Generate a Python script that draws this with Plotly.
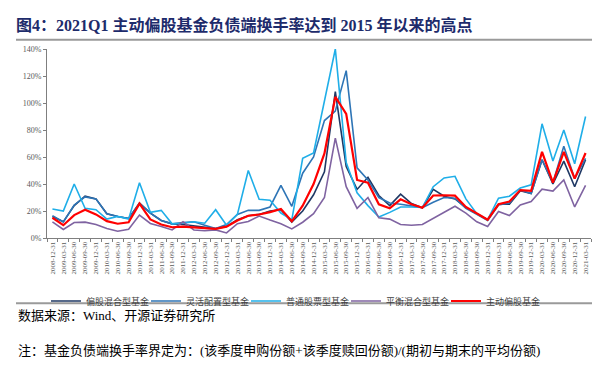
import plotly.graph_objects as go

dates = [
    "2008-12-31", "2009-03-31", "2009-06-30", "2009-09-30", "2009-12-31",
    "2010-03-31", "2010-06-30", "2010-09-30", "2010-12-31",
    "2011-03-31", "2011-06-30", "2011-09-30", "2011-12-31",
    "2012-03-31", "2012-06-30", "2012-09-30", "2012-12-31",
    "2013-03-31", "2013-06-30", "2013-09-30", "2013-12-31",
    "2014-03-31", "2014-06-30", "2014-09-30", "2014-12-31",
    "2015-03-31", "2015-06-30", "2015-09-30", "2015-12-31",
    "2016-03-31", "2016-06-30", "2016-09-30", "2016-12-31",
    "2017-03-31", "2017-06-30", "2017-09-30", "2017-12-31",
    "2018-03-31", "2018-06-30", "2018-09-30", "2018-12-31",
    "2019-03-31", "2019-06-30", "2019-09-30", "2019-12-31",
    "2020-03-31", "2020-06-30", "2020-09-30", "2020-12-31",
    "2021-03-31",
]

# 偏股混合型基金 (%)
pianguhunhe = [16, 12, 24, 31, 29, 18, 16, 14.5, 26, 18.5, 13, 10.5, 10, 9, 8, 7, 8.5,
               13.5, 16.5, 17.5, 20, 21, 11.8, 20, 32, 49, 108.5, 53, 36, 45, 31.5, 24,
               32.5, 25.5, 22.5, 36, 31, 29, 22.5, 17.8, 13.5, 25, 25, 35, 33, 58, 40,
               57, 38, 58]
# 灵活配置型基金 (%)
linghuopeizhi = [16.5, 12, 24.5, 30.5, 29, 18, 16, 14.5, 25.5, 18.5, 13, 10.5, 11.5, 12,
                 9.5, 7, 10, 17.5, 20.5, 20.5, 23, 39, 23.5, 48, 60, 87, 94, 124, 52, 43,
                 30, 26, 25, 24, 22.5, 26.5, 30, 29.5, 22, 17.5, 13, 24.5, 26, 35.5, 33,
                 58, 41, 68, 44, 59]
# 普通股票型基金 (%)
putonggupiao = [21.5, 20, 40, 22, 21, 14, 16, 14, 41, 19, 20.5, 10.5, 11, 12, 11, 21,
                9.5, 17.5, 50, 28.7, 28, 18.5, 13.5, 59, 63, 102, 140, 56, 33.5, 24, 15.5,
                19, 23, 23, 22.6, 38, 44.5, 45.7, 29, 18, 13.6, 29.5, 31, 37, 39.4, 84.6,
                57, 80, 55, 90]
# 平衡混合型基金 (%)
pinghenghunhe = [12, 6.3, 11.5, 11.8, 10, 7, 5, 6.5, 17, 10.8, 8.5, 6, 12, 6, 5.4, 6, 3.8,
                 10.6, 12.2, 16.3, 13.3, 10.6, 6.8, 11.7, 18, 30, 74, 38, 22, 30, 15, 14,
                 10, 9.5, 10, 14.5, 18.5, 23.5, 18.5, 12, 8.5, 19.7, 16.7, 24.5, 27, 36.2,
                 34.8, 43, 23, 39]
# 主动偏股基金 (%)
zhudongpiangu = [15, 9.5, 17, 21, 17.5, 12.5, 10.6, 11.7, 25.5, 13.8, 10, 8, 8.5, 8, 7.2,
                 6.8, 8.4, 13, 16.5, 17.4, 19.2, 21.5, 12.4, 24, 40, 62.7, 104.5, 92, 43,
                 41, 25, 22, 28.7, 25, 22.4, 31.5, 31.7, 31.4, 23, 18, 13.6, 25, 27, 35.5,
                 35, 63.8, 41, 63.8, 44, 63]

series = [
    ("偏股混合型基金", pianguhunhe, "#1F3864", 1.6),
    ("灵活配置型基金", linghuopeizhi, "#2E75B6", 1.6),
    ("普通股票型基金", putonggupiao, "#1FAEE8", 1.6),
    ("平衡混合型基金", pinghenghunhe, "#7F63A1", 1.6),
    ("主动偏股基金", zhudongpiangu, "#FF0000", 2.2),
]

y_ticks = [0, 20, 40, 60, 80, 100, 120, 140]

title_text = "图4：2021Q1 主动偏股基金负债端换手率达到 2015 年以来的高点"
source_text = "数据来源：Wind、开源证券研究所"
note_text = "注：基金负债端换手率界定为：(该季度申购份额+该季度赎回份额)/(期初与期末的平均份额)"

W, H = 600, 383
ML, MR, MT, MB = 39, 17, 41, 136
PW = W - ML - MR
PH = H - MT - MB


def px_x(px):
    return (px - ML) / PW


def px_y(py):
    return (H - MB - py) / PH


serif_cjk = "Liberation Serif, Noto Sans CJK SC"

fig = go.Figure()
for name, vals, color, width in series:
    fig.add_trace(go.Scatter(
        x=dates, y=vals, mode="lines", name=name,
        line=dict(color=color, width=width),
    ))

fig.update_layout(
    width=W, height=H,
    margin=dict(l=ML, r=MR, t=MT, b=MB),
    paper_bgcolor="white", plot_bgcolor="white",
    title=dict(
        text="<b>" + title_text + "</b>",
        x=8 / W, xref="container", xanchor="left",
        y=1 - 17 / H, yref="container", yanchor="middle",
        font=dict(family=serif_cjk, size=16, color="#1D2B6B"),
    ),
    showlegend=True,
    legend=dict(
        orientation="h",
        x=38 / W, xref="container", xanchor="left",
        y=1 - 293 / H, yref="container", yanchor="middle",
        entrywidth=55, entrywidthmode="pixels",
        font=dict(family="Noto Sans CJK SC", size=9, color="#404040"),
        bgcolor="rgba(0,0,0,0)",
    ),
    xaxis=dict(
        type="category",
        range=[-0.5, len(dates) - 0.5],
        showgrid=False, zeroline=False,
        showline=True, linecolor="#7F7F7F", linewidth=1,
        ticks="outside", tickson="boundaries", ticklen=3,
        tickcolor="#7F7F7F", tickwidth=1,
        tickangle=-90,
        tickfont=dict(family="Liberation Serif", size=7, color="#595959"),
    ),
    yaxis=dict(
        range=[0, 140],
        tickvals=y_ticks,
        ticktext=[f"{v}%" for v in y_ticks],
        showgrid=False, zeroline=False,
        showline=True, linecolor="#7F7F7F", linewidth=1,
        ticks="outside", ticklen=3, tickcolor="#7F7F7F", tickwidth=1,
        tickfont=dict(family="Liberation Serif", size=8, color="#595959"),
    ),
)

# separator rules
for py in (31, 318):
    fig.add_shape(
        type="line", xref="paper", yref="paper",
        x0=px_x(8), x1=px_x(593), y0=px_y(py), y1=px_y(py),
        line=dict(color="#9A9A9A", width=2),
    )

fig.add_annotation(
    text=source_text, xref="paper", yref="paper",
    x=px_x(8), y=px_y(331), xanchor="left", yanchor="middle",
    showarrow=False, font=dict(family=serif_cjk, size=13, color="#000000"),
)
fig.add_annotation(
    text=note_text, xref="paper", yref="paper",
    x=px_x(8), y=px_y(370), xanchor="left", yanchor="middle",
    showarrow=False, font=dict(family=serif_cjk, size=13, color="#000000"),
)

fig.write_html("out.html")
